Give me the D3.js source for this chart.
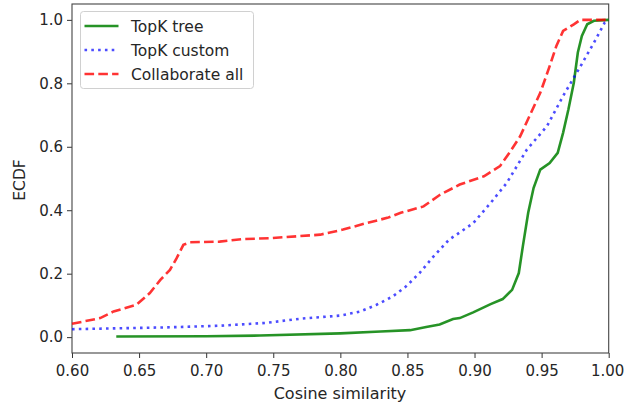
<!DOCTYPE html>
<html lang="en">
<head>
<meta charset="utf-8">
<title>ECDF of cosine similarity</title>
<style>
  body { margin: 0; background: #fff; }
  svg text { font-family: "DejaVu Sans", sans-serif; fill: #262626; }
</style>
</head>
<body>
<script src="https://d3js.org/d3.v7.min.js"></script>
<script>
// series: [cosine similarity, ecdf]
var topkTree = [
  [0.633, 0.002], [0.70, 0.003], [0.74, 0.005], [0.80, 0.012], [0.83, 0.018],
  [0.852, 0.022], [0.864, 0.032], [0.874, 0.040], [0.884, 0.057], [0.889, 0.060],
  [0.899, 0.078], [0.912, 0.104], [0.921, 0.120], [0.928, 0.149], [0.933, 0.202],
  [0.936, 0.286], [0.940, 0.392], [0.944, 0.470], [0.949, 0.528], [0.956, 0.549],
  [0.962, 0.581], [0.966, 0.644], [0.970, 0.718], [0.974, 0.802], [0.977, 0.897],
  [0.980, 0.949], [0.984, 0.986], [0.989, 0.997], [1.0, 1.0]
];
var topkCustom = [
  [0.60, 0.025], [0.673, 0.031], [0.71, 0.036], [0.745, 0.045], [0.770, 0.058],
  [0.800, 0.068], [0.815, 0.081], [0.827, 0.102], [0.839, 0.128], [0.849, 0.160],
  [0.859, 0.202], [0.869, 0.252], [0.881, 0.307], [0.899, 0.359], [0.912, 0.423],
  [0.924, 0.486], [0.939, 0.591], [0.954, 0.665], [0.966, 0.760], [0.979, 0.854],
  [0.989, 0.928], [0.997, 0.991], [1.0, 1.0]
];
var collabAll = [
  [0.60, 0.042], [0.621, 0.060], [0.631, 0.081], [0.648, 0.102], [0.658, 0.139],
  [0.666, 0.181], [0.673, 0.212], [0.678, 0.249], [0.683, 0.291], [0.688, 0.299],
  [0.710, 0.301], [0.727, 0.309], [0.748, 0.312], [0.785, 0.323], [0.802, 0.339],
  [0.820, 0.360], [0.835, 0.376], [0.845, 0.392], [0.862, 0.412], [0.874, 0.448],
  [0.889, 0.481], [0.907, 0.507], [0.919, 0.539], [0.926, 0.581], [0.934, 0.633],
  [0.941, 0.697], [0.949, 0.770], [0.956, 0.854], [0.961, 0.918], [0.966, 0.965],
  [0.974, 0.986], [0.979, 1.0], [1.0, 1.0]
];
var seriesNames = ["TopK tree", "TopK custom", "Collaborate all"];
var xTicks = [0.60, 0.65, 0.70, 0.75, 0.80, 0.85, 0.90, 0.95, 1.00];
var yTicks = [0.0, 0.2, 0.4, 0.6, 0.8, 1.0];

var w = 624, h = 407;
var pl = 72, pr = 608.7, pt = 4, pb = 353;

var svg = d3.select("body").append("svg")
  .attr("width", w).attr("height", h);

var x = d3.scaleLinear().domain([0.6, 1.0]).range([pl, pr]);
var y = d3.scaleLinear().domain([-0.05, 1.05]).range([pb, pt]);

// axes
svg.append("g")
  .attr("transform", "translate(0," + pb + ")")
  .call(d3.axisBottom(x).tickValues(xTicks).tickFormat(d3.format(".2f")).tickSizeOuter(0).tickSize(5).tickPadding(7.5));
svg.append("g")
  .attr("transform", "translate(" + pl + ",0)")
  .call(d3.axisLeft(y).tickValues(yTicks).tickFormat(d3.format(".1f")).tickSizeOuter(0).tickSize(5).tickPadding(4));

svg.selectAll(".domain").remove();
svg.selectAll(".tick line").attr("stroke", "#333").attr("stroke-width", 1);
svg.selectAll(".tick text")
  .attr("font-size", "15px")
  .attr("font-family", "DejaVu Sans, sans-serif")
  .attr("fill", "#262626");

// last x label sits right at the page edge, nudge it in a little
svg.selectAll(".tick text")
  .filter(function(d) { return d === 1.0 && this.getAttribute("dy") === "0.71em"; })
  .attr("dx", -1.5);

// frame
svg.append("rect")
  .attr("x", pl).attr("y", pt)
  .attr("width", pr - pl).attr("height", pb - pt)
  .attr("fill", "none").attr("stroke", "#444").attr("stroke-width", 1.1);

// lines
var line = d3.line()
  .x(function(d) { return x(d[0]); })
  .y(function(d) { return y(d[1]); });

var styles = [
  { data: topkTree, color: "#008000", opacity: 0.85, dash: null },
  { data: topkCustom, color: "#0000ff", opacity: 0.7, dash: "2.6,4.2" },
  { data: collabAll, color: "#ff0000", opacity: 0.8, dash: "9.6,4.2" }
];

svg.append("g").selectAll("path")
  .data(styles)
  .enter()
  .append("path")
  .attr("d", function(d) { return line(d.data); })
  .attr("fill", "none")
  .attr("stroke", function(d) { return d.color; })
  .attr("stroke-opacity", function(d) { return d.opacity; })
  .attr("stroke-width", 2.6)
  .attr("stroke-dasharray", function(d) { return d.dash; });

// legend
var lg = svg.append("g");
lg.append("rect")
  .attr("x", 80.5).attr("y", 11.5)
  .attr("width", 173).attr("height", 77)
  .attr("rx", 3)
  .attr("fill", "#fff").attr("fill-opacity", 0.8)
  .attr("stroke", "#d0d0d0").attr("stroke-width", 1);

styles.forEach(function(s, i) {
  var ly = 26 + i * 24;
  lg.append("line")
    .attr("x1", 84.5).attr("x2", 118.5)
    .attr("y1", ly).attr("y2", ly)
    .attr("stroke", s.color)
    .attr("stroke-opacity", s.opacity)
    .attr("stroke-width", 2.6)
    .attr("stroke-dasharray", s.dash);
  lg.append("text")
    .attr("x", 131).attr("y", ly + 5.5)
    .attr("font-size", "15.5px")
    .text(seriesNames[i]);
});

// axis labels
svg.append("text")
  .attr("x", 340).attr("y", 399)
  .attr("text-anchor", "middle")
  .attr("font-size", "16px")
  .text("Cosine similarity");

svg.append("text")
  .attr("transform", "translate(24.5,180) rotate(-90)")
  .attr("text-anchor", "middle")
  .attr("font-size", "15.5px")
  .text("ECDF");
</script>
</body>
</html>
